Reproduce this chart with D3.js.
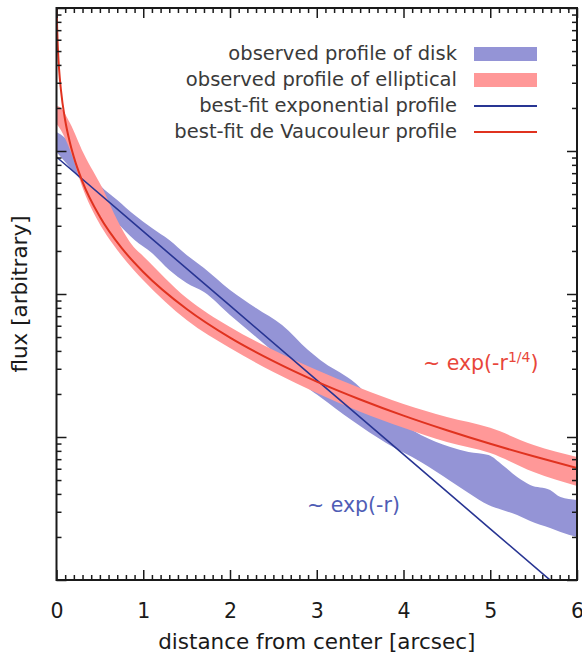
<!DOCTYPE html>
<html><head><meta charset="utf-8">
<script src="https://cdn.jsdelivr.net/npm/d3@7"></script>
<style>body{margin:0;background:#fff}svg{display:block;font-family:"DejaVu Sans",sans-serif}</style>
</head><body><svg id="c" width="582" height="654"></svg>
<script>
// ---- data ----
const diskR      = [0, 0.1, 0.2, 0.3, 0.5, 0.7, 0.9, 1.1, 1.3, 1.5, 1.7, 2.0, 2.3, 2.6, 2.9, 3.04, 3.4, 3.8, 4.2, 4.54, 4.75, 4.98, 5.14, 5.31, 5.46, 5.69, 5.81, 6];
const diskUpper  = [1.358, 1.233, 1.049, 0.865, 0.5785, 0.4544, 0.3568, 0.2894, 0.2385, 0.1874, 0.1520, 0.1067, 0.0798, 0.0607, 0.0406, 0.0346, 0.0250, 0.01495, 0.01033, 0.00851, 0.00786, 0.00748, 0.00637, 0.00525, 0.00462, 0.00426, 0.00380, 0.00362];
const diskLower  = [0.984, 0.838, 0.713, 0.607, 0.406, 0.3136, 0.2385, 0.1935, 0.1472, 0.1194, 0.1033, 0.0713, 0.0500, 0.0346, 0.0220, 0.01905, 0.01315, 0.00908, 0.00669, 0.00493, 0.00406, 0.00335, 0.00309, 0.00285, 0.00259, 0.00231, 0.00217, 0.00200];

const ellR       = [0, 0.05, 0.155, 0.31, 0.54, 0.7, 0.89, 1, 1.5, 2, 2.5, 3, 3.5, 4, 4.5, 5, 5.5, 6];
const ellUpper   = [2.06, 2.0, 1.57, 0.968, 0.534, 0.329, 0.213, 0.184, 0.0938, 0.0588, 0.0406, 0.0294, 0.0220, 0.0170, 0.0138, 0.0116, 0.00879, 0.00725];
const ellLower   = [1.55, 1.40, 1.02, 0.534, 0.280, 0.203, 0.147, 0.125, 0.0658, 0.0419, 0.0285, 0.0203, 0.0150, 0.0116, 0.00923, 0.00773, 0.00569, 0.00454];

const expR       = [0, 1, 2, 3, 4, 5, 6];
const expFlux    = [0.908, 0.274, 0.0828, 0.0250, 0.00755, 0.00228, 0.000689];

const devR       = [0, 0.005, 0.01, 0.02, 0.03, 0.05, 0.1, 0.15, 0.2, 0.3, 0.5, 0.75, 1, 1.5, 2, 2.5, 3, 3.5, 4, 4.5, 5, 5.5, 6];
const devFlux    = [37.4, 8.6, 6.5, 4.65, 3.72, 2.71, 1.64, 1.175, 0.906, 0.609, 0.347, 0.210, 0.1426, 0.0785, 0.0495, 0.0339, 0.0244, 0.0183, 0.0141, 0.01114, 0.00896, 0.00733, 0.00607];

const xTicks     = [0, 1, 2, 3, 4, 5, 6];
const legendLabels = ["observed profile of disk", "observed profile of elliptical", "best-fit exponential profile", "best-fit de Vaucouleur profile"];

// ---- styles ----
const C = {disk: "#9494d6", ell: "#ff9898", exp: "#283593", dev: "#e0321f",
           expText: "#4f5db5", devText: "#e8463a", ink: "#1a1a1a", legendInk: "#3a3a3a"};

const svg = d3.select("#c");
const L = 56.5, R = 577, T = 8, B = 580;
const x = d3.scaleLinear().domain([0, 6]).range([L, R]);
const y = d3.scaleLog().domain([1e-3, 10]).range([B, T]);

svg.append("defs").append("clipPath").attr("id", "clip")
  .append("rect").attr("x", L).attr("y", T).attr("width", R - L).attr("height", B - T);
const plot = svg.append("g").attr("clip-path", "url(#clip)");

const area = d3.area().x(d => x(d[0])).y0(d => y(d[2])).y1(d => y(d[1])).curve(d3.curveMonotoneX);
const line = d3.line().x(d => x(d[0])).y(d => y(d[1])).curve(d3.curveMonotoneX);

plot.append("path").datum(diskR.map((r, i) => [r, diskUpper[i], diskLower[i]]))
  .attr("d", area).attr("fill", C.disk);
plot.append("path").datum(ellR.map((r, i) => [r, ellUpper[i], ellLower[i]]))
  .attr("d", area).attr("fill", C.ell);
plot.append("path").datum(expR.map((r, i) => [r, expFlux[i]]))
  .attr("d", d3.line().x(d => x(d[0])).y(d => y(d[1]))).attr("fill", "none")
  .attr("stroke", C.exp).attr("stroke-width", 1.6);
plot.append("path").datum(devR.map((r, i) => [r, devFlux[i]]))
  .attr("d", line).attr("fill", "none").attr("stroke", C.dev).attr("stroke-width", 2);

// ---- axes ----
const xMinor = d3.range(0, 60).map(i => i / 10).filter(v => Math.abs(v - Math.round(v)) > 1e-6);
const yMajor = [1e-3, 1e-2, 1e-1, 1, 10];
const yMinor = [];
[1e-3, 1e-2, 1e-1, 1].forEach(d => { for (let k = 2; k <= 9; k++) yMinor.push(d * k); });

function style(g) {
  g.select(".domain").remove();
  g.selectAll(".tick line").attr("stroke", C.ink).attr("stroke-width", 1.5);
}
function addAxis(axisFn, scale, vals, size, tr, labels) {
  const a = axisFn(scale).tickValues(vals).tickSize(-size);
  if (labels) a.tickFormat(d3.format("d")).tickPadding(23); else a.tickFormat("");
  const g = svg.append("g").attr("transform", tr).call(a).call(style);
  return g;
}
addAxis(d3.axisBottom, x, xMinor, 5, `translate(0,${B})`);
const xb = addAxis(d3.axisBottom, x, xTicks, 10, `translate(0,${B})`, true);
xb.selectAll("text").attr("font-size", 20.5).attr("font-family", "DejaVu Sans").attr("fill", C.ink);
addAxis(d3.axisTop, x, xMinor, 5, `translate(0,${T})`);
addAxis(d3.axisTop, x, xTicks, 10, `translate(0,${T})`);
addAxis(d3.axisLeft, y, yMinor, 5, `translate(${L},0)`);
addAxis(d3.axisLeft, y, yMajor, 10, `translate(${L},0)`);
addAxis(d3.axisRight, y, yMinor, 5, `translate(${R},0)`);
addAxis(d3.axisRight, y, yMajor, 10, `translate(${R},0)`);

svg.append("rect").attr("x", L).attr("y", T).attr("width", R - L).attr("height", B - T)
  .attr("fill", "none").attr("stroke", C.ink).attr("stroke-width", 2);

// axis labels
svg.append("text").attr("x", (L + R) / 2).attr("y", 649).attr("text-anchor", "middle")
  .attr("font-size", 21.5).attr("fill", C.ink).text("distance from center [arcsec]");
svg.append("text").attr("transform", `translate(27,${(T + B) / 2}) rotate(-90)`).attr("text-anchor", "middle")
  .attr("font-size", 21.5).attr("fill", C.ink).text("flux [arbitrary]");

// ---- legend ----
const lg = svg.append("g");
const rowsY = [54, 80, 106, 132];
legendLabels.forEach((t, i) => {
  lg.append("text").attr("x", 457).attr("y", rowsY[i] + 6).attr("text-anchor", "end")
    .attr("font-size", 19.5).attr("fill", C.legendInk).text(t);
});
lg.append("rect").attr("x", 474).attr("y", rowsY[0] - 7).attr("width", 63).attr("height", 14).attr("fill", C.disk);
lg.append("rect").attr("x", 474).attr("y", rowsY[1] - 7).attr("width", 63).attr("height", 14).attr("fill", C.ell);
lg.append("line").attr("x1", 474).attr("x2", 537).attr("y1", rowsY[2]).attr("y2", rowsY[2])
  .attr("stroke", C.exp).attr("stroke-width", 1.8);
lg.append("line").attr("x1", 474).attr("x2", 537).attr("y1", rowsY[3]).attr("y2", rowsY[3])
  .attr("stroke", C.dev).attr("stroke-width", 2);

// ---- annotations ----
const devT = svg.append("text").attr("x", 423).attr("y", 370).attr("font-size", 20.5).attr("fill", C.devText);
devT.append("tspan").text("~ exp(-r");
devT.append("tspan").attr("font-size", 14).attr("dy", -8).text("1/4");
devT.append("tspan").attr("dy", 8).text(")");
svg.append("text").attr("x", 307).attr("y", 512).attr("font-size", 20.5).attr("fill", C.expText).text("~ exp(-r)");
</script></body></html>
